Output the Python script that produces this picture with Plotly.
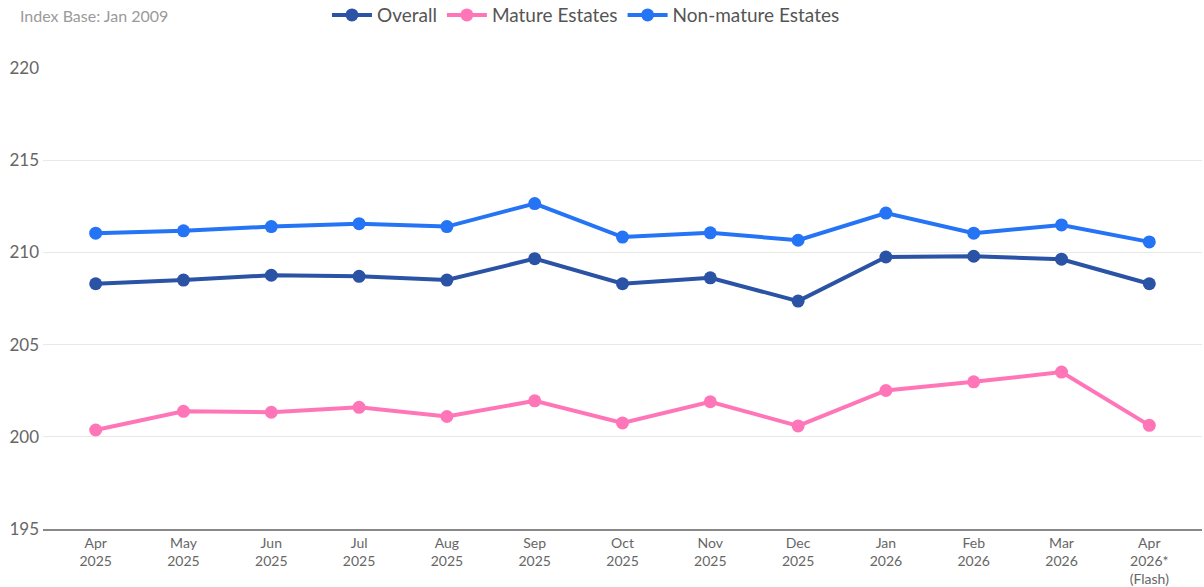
import plotly.graph_objects as go

months = ["Apr<br>2025", "May<br>2025", "Jun<br>2025", "Jul<br>2025", "Aug<br>2025",
          "Sep<br>2025", "Oct<br>2025", "Nov<br>2025", "Dec<br>2025", "Jan<br>2026",
          "Feb<br>2026", "Mar<br>2026", "Apr<br>2026*<br>(Flash)"]

overall = [208.30, 208.50, 208.76, 208.70, 208.50, 209.66, 208.30, 208.62, 207.36,
           209.75, 209.79, 209.63, 208.30]
mature = [200.37, 201.38, 201.33, 201.60, 201.10, 201.95, 200.75, 201.90, 200.59,
          202.51, 202.98, 203.51, 200.62]
non_mature = [211.04, 211.17, 211.40, 211.56, 211.40, 212.65, 210.83, 211.06, 210.66,
              212.13, 211.04, 211.49, 210.57]

series = [
    ("Overall", overall, "#2A52A5"),
    ("Mature Estates", mature, "#FF76B8"),
    ("Non-mature Estates", non_mature, "#2574F5"),
]

fig = go.Figure()
for name, vals, color in series:
    fig.add_trace(go.Scatter(
        x=months, y=vals, name=name, mode="lines+markers",
        line=dict(color=color, width=4),
        marker=dict(color=color, size=13),
    ))

fig.update_layout(
    width=1204, height=587,
    margin=dict(l=43, r=2, t=68, b=58, autoexpand=False),
    paper_bgcolor="white", plot_bgcolor="white",
    font=dict(family="Lato, 'Open Sans', sans-serif", color="#666666", size=15),
    showlegend=True,
    legend=dict(orientation="h", x=0.245, xanchor="left", y=0.9744, yanchor="middle",
                yref="container", font=dict(size=19, color="#555555"),
                itemwidth=40, bgcolor="rgba(0,0,0,0)"),
    annotations=[dict(text="Index Base: Jan 2009", xref="paper", yref="paper",
                      x=-0.022, y=1.113, xanchor="left", yanchor="middle",
                      showarrow=False, font=dict(size=16, color="#9a9a9a"))],
)

fig.update_xaxes(
    type="category", range=[-0.6, 12.6], showgrid=False,
    showline=True, linecolor="#888888", linewidth=2,
    ticks="", tickfont=dict(size=14, color="#666666"), ticklabelstandoff=0,
)
fig.update_yaxes(
    range=[195, 220], dtick=5, tick0=195, showgrid=True, gridcolor="#e8e8e8", gridwidth=1,
    zeroline=False, showline=False, ticks="",
    tickfont=dict(size=17, color="#666666"), ticklabelstandoff=3,
)

fig.write_html("out.html", config={"displayModeBar": False},
               post_script="document.body.style.margin='0';document.body.style.overflow='hidden';")
